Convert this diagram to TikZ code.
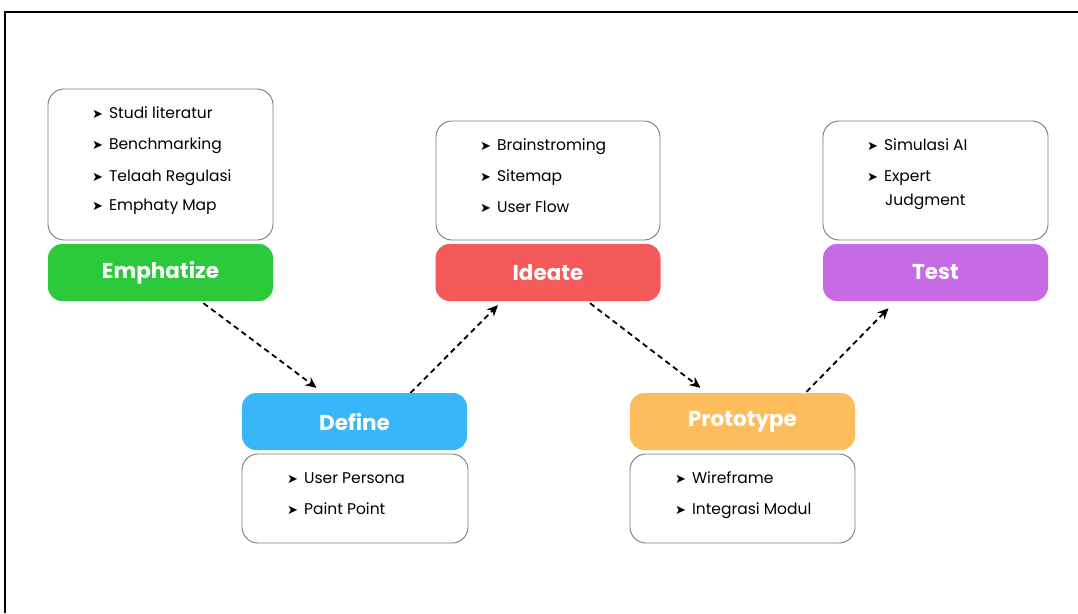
\documentclass[tikz,border=0pt]{standalone}
\usepackage{fontspec}
\setmainfont{Poppins}
\newfontfamily\symfont{DejaVu Sans}
\usetikzlibrary{arrows.meta}
\definecolor{cgreen}{HTML}{2CC93D}
\definecolor{cred}{HTML}{F55A5A}
\definecolor{cblue}{HTML}{38B6FA}
\definecolor{corange}{HTML}{FDBD5C}
\definecolor{cpurple}{HTML}{C66BE3}
\definecolor{cborder}{HTML}{7A7A7A}
\newcommand{\bul}{{\symfont\fontsize{13}{12}\selectfont ➤}\hspace{6pt}}
\tikzset{
  pill/.style={fill=#1, draw=none, rounded corners=14pt, minimum width=225pt, minimum height=57pt,
    text=white, font=\fontsize{21.5}{24}\selectfont\bfseries, inner sep=0pt},
  listbox/.style={draw=cborder, line width=0.9pt, rounded corners=16pt, fill=white, inner sep=0pt},
  item/.style={anchor=west, inner sep=0pt, text height=11pt, text depth=4pt, yshift=-2pt,
    font=\fontsize{15.5}{17}\selectfont, text=black},
  flow/.style={dash pattern=on 5.5pt off 4pt, line width=1.8pt, -{Stealth[length=11pt,width=10pt]}}
}
\begin{document}
\begin{tikzpicture}[x=1pt,y=-1pt]
\useasboundingbox (0,0) rectangle (1078,613);
\draw[line width=1.8pt] (5,613) -- (5,12) -- (1078,12);

% Emphatize
\node[listbox, minimum width=225pt, minimum height=151pt] (ebox) at (160.5,164.5) {};
\node[pill=cgreen] (emph) at (160.5,272.5) {Emphatize};
\node[item] (e1) at (92,113) {\bul Studi literatur};
\node[item] (e2) at (92,144) {\bul Benchmarking};
\node[item] (e3) at (92,176) {\bul Telaah Regulasi};
\node[item] (e4) at (92,205) {\bul Emphaty Map};

% Ideate
\node[listbox, minimum width=224pt, minimum height=119pt] (ibox) at (548,180.5) {};
\node[pill=cred] (ideate) at (548,272.5) {Ideate};
\node[item] (i1) at (480,145) {\bul Brainstroming};
\node[item] (i2) at (480,176) {\bul Sitemap};
\node[item] (i3) at (480,207) {\bul User Flow};

% Test
\node[listbox, minimum width=225pt, minimum height=119pt] (tbox) at (935.5,180.5) {};
\node[pill=cpurple] (test) at (935.5,272.5) {Test};
\node[item] (t1) at (867,145) {\bul Simulasi AI};
\node[item] (t2) at (867,176) {\bul Expert};
\node[item] (t3) at (885,200) {Judgment};

% Define
\node[pill=cblue] (define) at (354.5,421.5) {Define};
\node[listbox, minimum width=226pt, minimum height=89pt] (dbox) at (355,498.5) {};
\node[item] (d1) at (287,478) {\bul User Persona};
\node[item] (d2) at (287,509) {\bul Paint Point};

% Prototype
\node[pill=corange] (proto) at (742.5,421.5) {Prototype};
\node[listbox, minimum width=225pt, minimum height=89pt] (pbox) at (742.5,498.5) {};
\node[item] (p1) at (675,478) {\bul Wireframe};
\node[item] (p2) at (675,509) {\bul Integrasi Modul};

% connectors
\draw[flow] ([xshift=43pt,yshift=-2pt]emph.south) -- ([xshift=-38pt,yshift=5pt]define.north);
\draw[flow] ([xshift=56pt]define.north) -- ([xshift=-50pt,yshift=-4pt]ideate.south);
\draw[flow] ([xshift=42pt,yshift=-2pt]ideate.south) -- ([xshift=-42pt,yshift=5pt]proto.north);
\draw[flow] ([xshift=64pt,yshift=1pt]proto.north) -- ([xshift=-47pt,yshift=-7pt]test.south);
\end{tikzpicture}
\end{document}
